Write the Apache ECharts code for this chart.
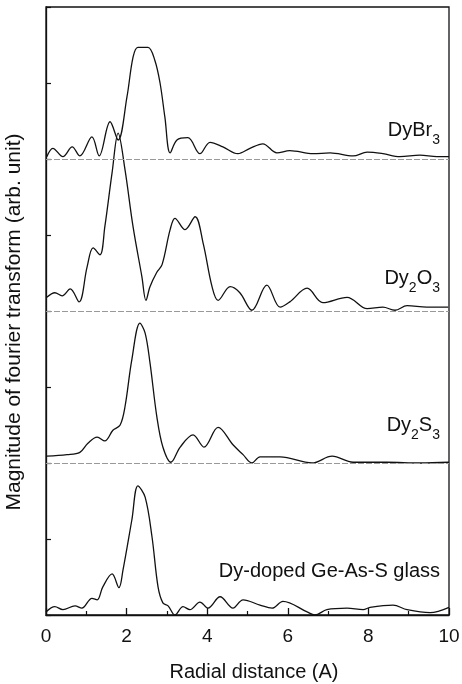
<!DOCTYPE html>
<html>
<head>
<meta charset="utf-8">
<script src="https://cdn.jsdelivr.net/npm/echarts@6/dist/echarts.min.js"></script>
<style>
  html, body { margin: 0; padding: 0; background: #fff; }
  #chart { width: 462px; height: 684px; }
</style>
</head>
<body>
<div id="chart"></div>
<script>
// radial distance (A) and FT magnitude, each curve already offset by its baseline
const glassR = [0.00, 0.22, 0.42, 0.72, 0.89, 1.14, 1.27, 1.41, 1.64, 1.81, 1.91, 2.13, 2.28, 2.46, 2.63, 2.78, 2.90, 3.03, 3.20, 3.40, 3.57, 3.82, 4.02, 4.32, 4.64, 4.89, 5.31, 5.61, 5.88, 6.48, 6.67, 6.97, 7.47, 7.87, 8.04, 8.61, 8.96, 9.53, 10.0];
const glassMag = [0.04, 0.11, 0.07, 0.12, 0.09, 0.22, 0.20, 0.37, 0.54, 0.36, 0.59, 1.25, 1.70, 1.55, 1.03, 0.37, 0.16, 0.12, 0.00, 0.11, 0.07, 0.17, 0.09, 0.24, 0.09, 0.20, 0.13, 0.09, 0.18, 0.04, 0.00, 0.07, 0.09, 0.07, 0.10, 0.13, 0.07, 0.03, 0.10];

const s3R = [0.02, 0.52, 0.84, 1.04, 1.27, 1.46, 1.66, 1.84, 1.96, 2.13, 2.33, 2.46, 2.58, 2.75, 2.90, 3.10, 3.33, 3.65, 3.92, 4.27, 4.64, 4.89, 5.11, 5.31, 5.81, 6.60, 7.10, 7.62, 8.46, 9.28, 10.0];
const s3Mag = [2.09, 2.11, 2.14, 2.26, 2.34, 2.29, 2.43, 2.50, 2.74, 3.36, 3.84, 3.71, 3.32, 2.61, 2.21, 2.01, 2.21, 2.37, 2.21, 2.47, 2.24, 2.11, 2.00, 2.08, 2.08, 2.00, 2.09, 2.01, 2.01, 2.00, 2.01];

const o3R = [0.02, 0.22, 0.40, 0.60, 0.82, 1.02, 1.17, 1.34, 1.46, 1.64, 1.79, 1.96, 2.16, 2.38, 2.48, 2.58, 2.75, 2.88, 3.08, 3.20, 3.45, 3.70, 3.90, 4.12, 4.27, 4.57, 4.81, 5.11, 5.48, 5.81, 6.05, 6.48, 6.87, 7.47, 7.97, 8.36, 8.66, 8.96, 9.45, 9.98];
const o3Mag = [4.18, 4.24, 4.20, 4.29, 4.12, 4.58, 4.83, 4.74, 5.11, 5.82, 6.34, 5.86, 5.11, 4.45, 4.14, 4.32, 4.51, 4.61, 5.07, 5.22, 5.07, 5.24, 4.89, 4.32, 4.14, 4.32, 4.24, 4.01, 4.34, 4.05, 4.12, 4.30, 4.11, 4.18, 4.03, 4.05, 4.01, 4.07, 4.05, 4.05];

const br3R = [0.02, 0.17, 0.42, 0.65, 0.84, 1.14, 1.32, 1.59, 1.79, 2.01, 2.16, 2.28, 2.53, 2.70, 2.83, 2.95, 3.08, 3.25, 3.52, 3.82, 4.07, 4.39, 4.76, 5.06, 5.38, 5.73, 6.05, 6.63, 7.05, 7.62, 7.97, 8.36, 8.78, 9.28, 9.70, 10.0];
const br3Mag = [6.03, 6.14, 6.03, 6.16, 6.04, 6.29, 6.04, 6.49, 6.25, 6.82, 7.34, 7.47, 7.47, 7.30, 7.00, 6.55, 6.08, 6.25, 6.28, 6.07, 6.22, 6.16, 6.07, 6.14, 6.20, 6.08, 6.11, 6.07, 6.08, 6.04, 6.09, 6.07, 6.03, 6.05, 6.03, 6.03];

const baselines = [2, 4, 6];
const xTicks = [0, 2, 4, 6, 8, 10];

const zip = (xs, ys) => xs.map((x, i) => [x, ys[i]]);

const chart = echarts.init(document.getElementById('chart'));
const font = 'Arial, "Liberation Sans", sans-serif';

// subscripts: taller padded box pushes the digit below the baseline
const rich = {
  n: { fontSize: 20, fontFamily: font, fontWeight: 'normal', color: '#111', lineHeight: 20 },
  s: { fontSize: 14, fontFamily: font, fontWeight: 'normal', color: '#111', lineHeight: 14, padding: [20, 0, 0, 0] }
};

const label = (text, top) => ({
  text: text,
  right: 22,
  top: top,
  padding: 0,
  textStyle: { fontWeight: 'normal', rich: rich }
});

const lineSeries = (name, data, withBase) => ({
  name: name,
  type: 'line',
  data: data,
  smooth: 0.35,
  symbol: 'none',
  lineStyle: { color: '#111', width: 1.3 },
  silent: true,
  markLine: withBase ? {
    silent: true,
    symbol: 'none',
    label: { show: false },
    lineStyle: { color: '#999', type: [6, 2], width: 1 },
    data: baselines.map(b => ({ yAxis: b }))
  } : undefined
});

const option = {
  animation: false,
  backgroundColor: '#fff',
  title: [
    label('{n|DyBr}{s|3}', 120),
    label('{n|Dy}{s|2}{n|O}{s|3}', 268),
    label('{n|Dy}{s|2}{n|S}{s|3}', 415),
    label('{n|Dy-doped Ge-As-S glass}', 561)
  ],
  grid: {
    left: 46, right: 13, top: 7, bottom: 69,
    containLabel: false, outerBoundsMode: 'none',
    show: true, borderColor: '#111', borderWidth: 1.3
  },
  xAxis: {
    type: 'value',
    min: 0,
    max: 10,
    interval: 2,
    name: 'Radial distance (A)',
    nameLocation: 'middle',
    nameGap: 47,
    nameTextStyle: { fontSize: 20, fontFamily: font, color: '#111', padding: [0, 0, 0, 13] },
    axisLine: { lineStyle: { color: '#111', width: 1.3 } },
    axisTick: { inside: true, length: 7, lineStyle: { color: '#111', width: 1.3 } },
    minorTick: { show: true, splitNumber: 2, length: 4, lineStyle: { color: '#111', width: 1.2 } },
    axisLabel: {
      fontSize: 19, fontFamily: font, color: '#111', margin: 12,
      formatter: v => (xTicks.includes(v) ? String(v) : '')
    },
    splitLine: { show: false }
  },
  yAxis: {
    type: 'value',
    min: 0,
    max: 8,
    interval: 1,
    name: 'Magnitude of fourier transform (arb. unit)',
    nameLocation: 'middle',
    nameGap: 21,
    nameTextStyle: { fontSize: 21, fontFamily: font, color: '#111', padding: [0, 22, 0, 0] },
    axisLine: { lineStyle: { color: '#111', width: 1.3 } },
    axisTick: { inside: true, length: 5, lineStyle: { color: '#111', width: 1.2 } },
    axisLabel: { show: false },
    splitLine: { show: false }
  },
  series: [
    lineSeries('Dy-doped Ge-As-S glass', zip(glassR, glassMag), true),
    lineSeries('Dy2S3', zip(s3R, s3Mag), false),
    lineSeries('Dy2O3', zip(o3R, o3Mag), false),
    lineSeries('DyBr3', zip(br3R, br3Mag), false)
  ]
};

chart.setOption(option);
</script>
</body>
</html>
